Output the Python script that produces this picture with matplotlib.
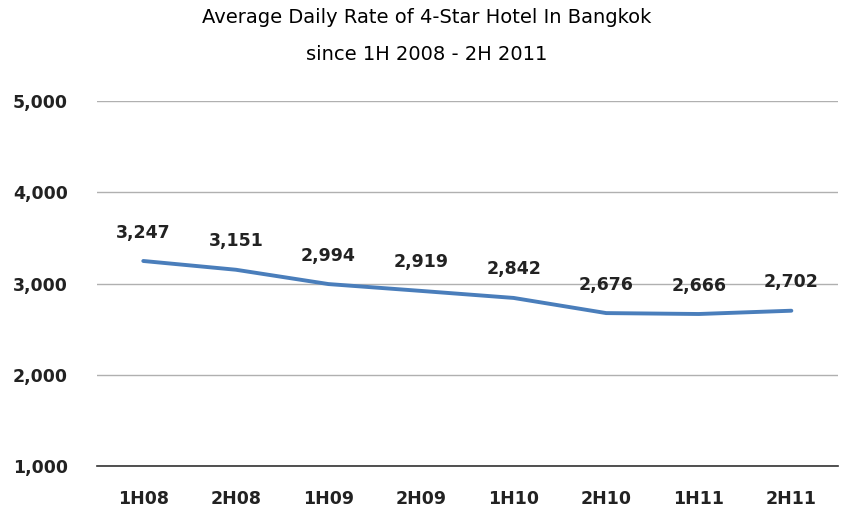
import matplotlib.pyplot as plt
from matplotlib.ticker import FuncFormatter

periods = ['1H08', '2H08', '1H09', '2H09', '1H10', '2H10', '1H11', '2H11']
rates = [3247, 3151, 2994, 2919, 2842, 2676, 2666, 2702]
yticks = [1000, 2000, 3000, 4000, 5000]

fig = plt.figure(figsize=(8.53, 5.12), dpi=100)
ax = fig.add_axes([0.1137, 0.0898, 0.8683, 0.7129])

x = list(range(len(periods)))
ax.plot(x, rates, color='#4a7ebb', linewidth=2.8, solid_capstyle='round')
for xi, v in zip(x, rates):
    ax.annotate(f'{v:,}', (xi, v), xytext=(0, 14), textcoords='offset points',
                ha='center', va='bottom', fontsize=12.5, fontweight='bold', color='#222222')

ax.set_xlim(-0.5, len(periods) - 0.5)
ax.set_ylim(1000, 5000)
ax.set_yticks(yticks)
ax.yaxis.set_major_formatter(FuncFormatter(lambda v, p: f'{int(v):,}'))
ax.set_xticks(x)
ax.set_xticklabels(periods)
ax.grid(axis='y', color='#b0b0b0', linewidth=1)
ax.set_axisbelow(True)
for s in ['top', 'right', 'left']:
    ax.spines[s].set_visible(False)
ax.spines['bottom'].set_color('#333333')
ax.spines['bottom'].set_linewidth(1.2)
ax.tick_params(length=0, labelsize=12.5, colors='#222222')
ax.tick_params(axis='y', pad=21)
ax.tick_params(axis='x', pad=17)
for lab in ax.get_xticklabels() + ax.get_yticklabels():
    lab.set_fontweight('bold')

fig.text(0.5, 0.985, 'Average Daily Rate of 4-Star Hotel In Bangkok\nsince 1H 2008 - 2H 2011',
         ha='center', va='top', fontsize=14, linespacing=2.2)

fig.savefig('out.png', dpi=100)
